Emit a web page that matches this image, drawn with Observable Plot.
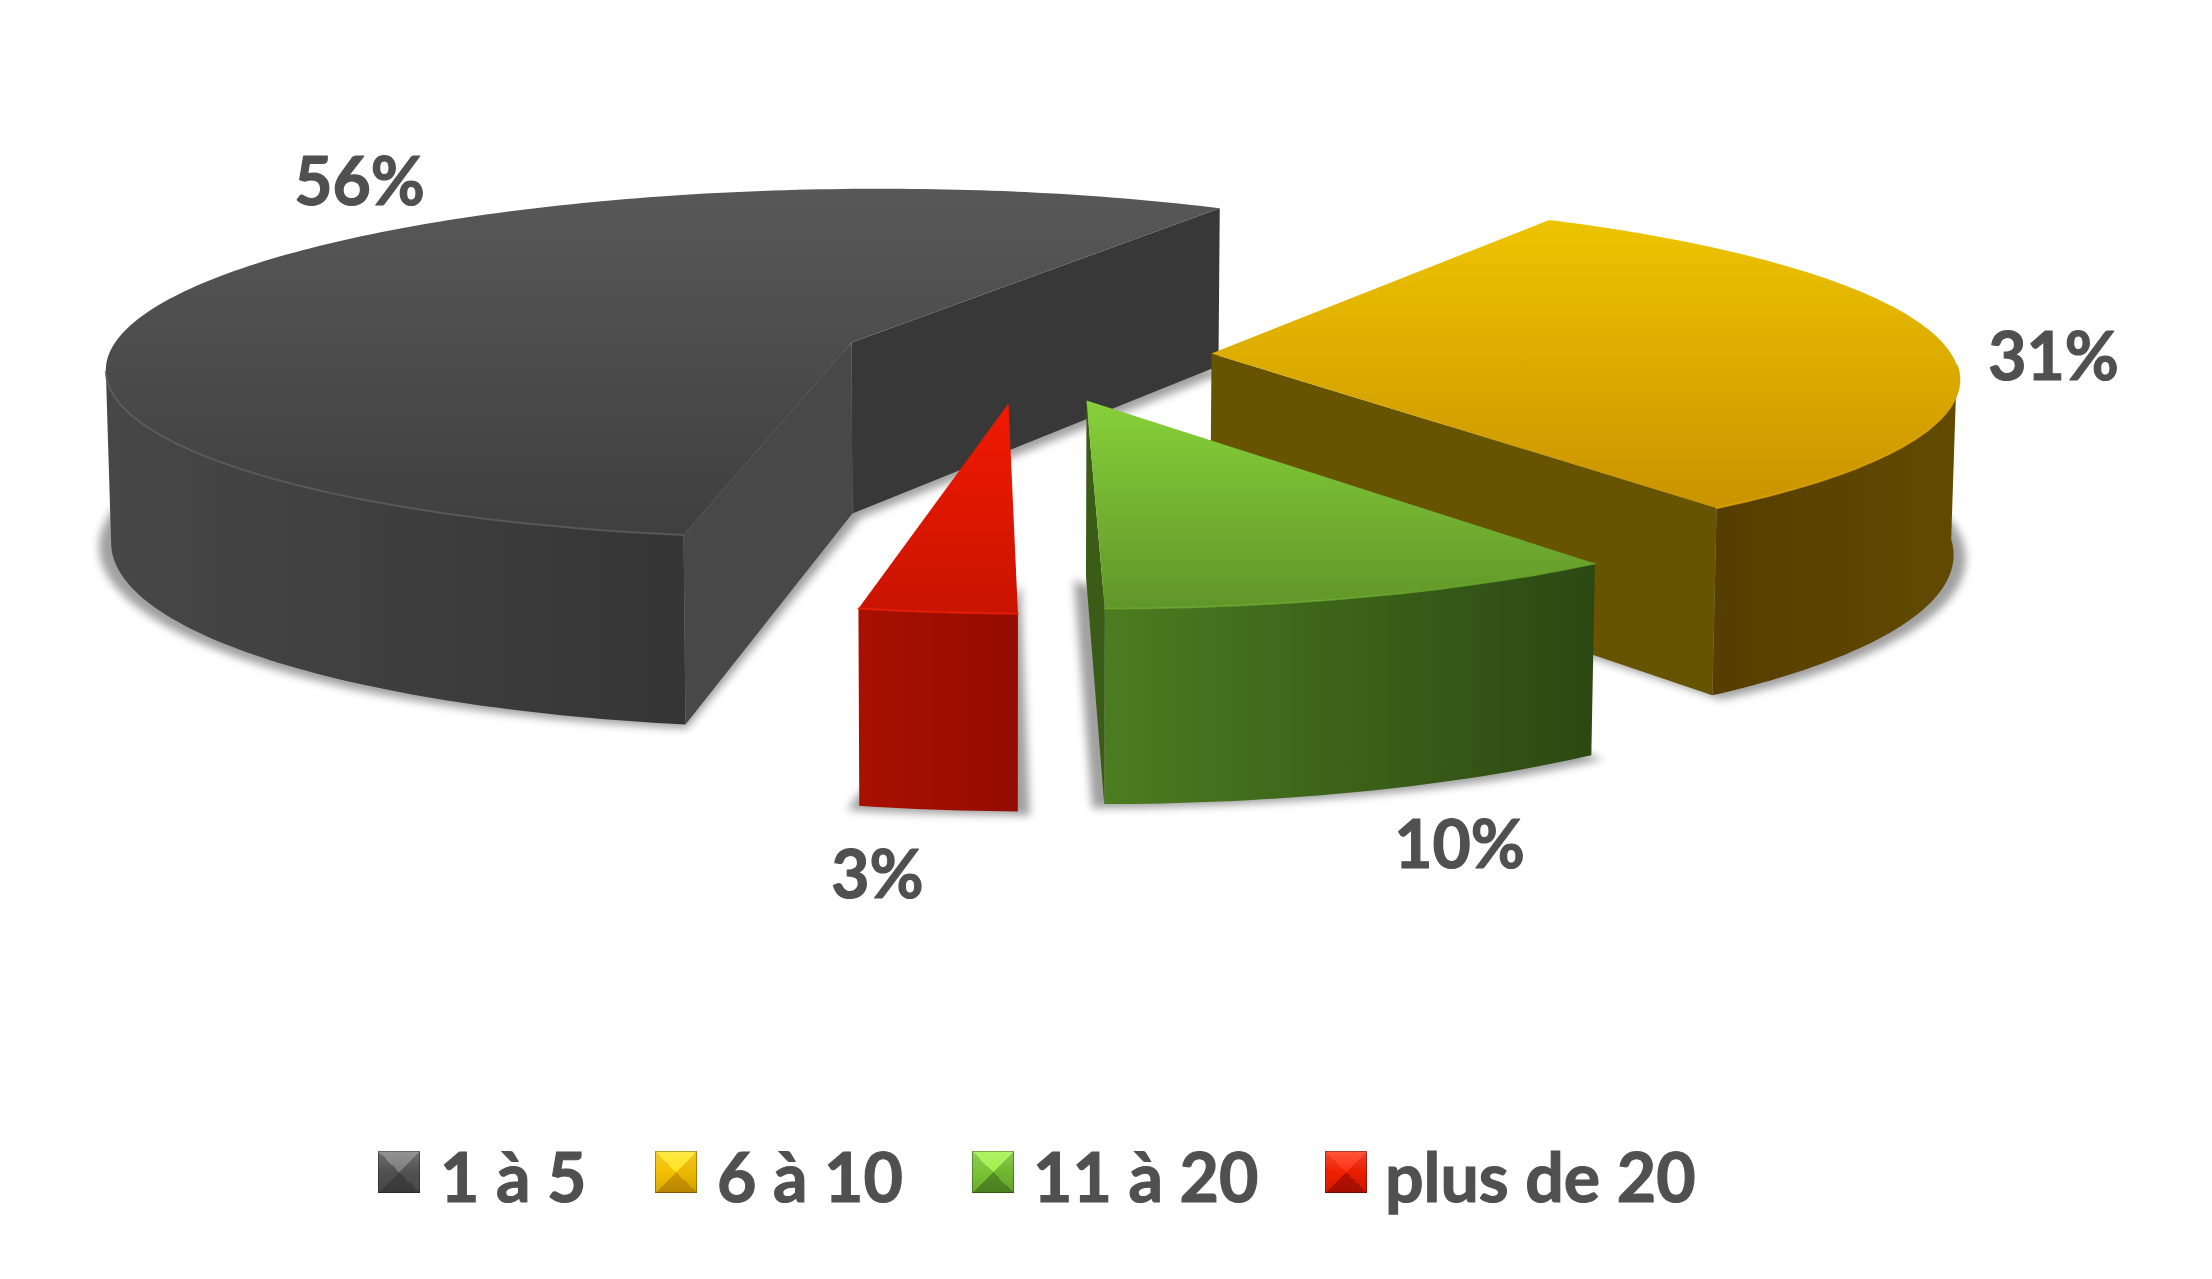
<!DOCTYPE html>
<html lang="fr">
<head>
<meta charset="utf-8">
<script src="https://cdn.jsdelivr.net/npm/d3@7"></script>
<script src="https://cdn.jsdelivr.net/npm/@observablehq/plot@0.6"></script>
<style>
  html, body { margin: 0; padding: 0; background: #fff; overflow: hidden; }
  #chart svg { display: block; }
  #legend { position: relative; height: 159px; width: 2212px; font: 700 68px Lato, sans-serif; color: #505050; -webkit-text-stroke: 1.2px #505050; }
  .item { position: absolute; top: 16px; white-space: nowrap; line-height: 80px; }
  .key { position: absolute; top: 31px; width: 42px; height: 42px; box-shadow: inset 0 0 0 1px rgba(0,0,0,.3); }
</style>
</head>
<body>
<div id="chart"></div>
<div id="legend"></div>
<script>
// ---- data ----
const categories = ["1 à 5", "6 à 10", "11 à 20", "plus de 20"];
const shares = [56, 31, 10, 3];

// ---- drawing settings ----
const W = 2212, H = 1120;
const firstAngle = 192;            // degrees clockwise from the back of the pie
const pTop = 0.12, pDepth = 0.10;  // perspective strengths
const ids = ["dark", "yellow", "green", "red"];
const shape = {
  dark:   {ax: 851,  ay: 342, rx: 741, ry: 172, s: 6,  t: -8, d: 171, outer: [0, 71],    walls: [["last", "#383838"], ["first", "#484848"]], edge: "#5c5c5c"},
  yellow: {ax: 1211, ay: 353, rx: 736, ry: 173, s: 43, t: -5, d: 172, outer: [62, 111.6], walls: [["last", "#665400"]], edge: "#dca400"},
  green:  {ax: 1086, ay: 400, rx: 757, ry: 183, s: 32, t: -6, d: 176, outer: [0, 36],    walls: [["last", "#3b5c16"]], edge: "#66a82c"},
  red:    {ax: 1008, ay: 403, rx: 750, ry: 185, s: 24, t: 0,  d: 178, outer: [0, 10.8],  walls: [], edge: "#ec1c00"}
};
const labelAt = [[359, 183], [2053, 358], [1459, 846], [877, 876]];
const legendAt = [[378, 440], [655, 717], [972, 1033], [1325, 1385]];
const topColors = [["#585858", "#3f3f3f"], ["#edc400", "#ca9300"], ["#87d139", "#619629"], ["#f21900", "#c81400"]];
const sideColors = [["#474747", "#353535"], ["#563d00", "#624b00"], ["#4c7c20", "#2b4812"], ["#a81000", "#940c00"]];
const keyColors = [
  ["#7c7c7c", "#525252", "#404040", "#505050"],
  ["#ffe420", "#ecb800", "#d09800", "#f4c000"],
  ["#a0f048", "#70b830", "#558f24", "#78c434"],
  ["#ff3010", "#e81c00", "#b81000", "#f02000"]
];

// ---- pie geometry, from the shares ----
const arcs = d3.pie().sort(null)
  .startAngle(firstAngle * Math.PI / 180)
  .endAngle((firstAngle + 360) * Math.PI / 180)(shares);

const rad = Math.PI / 180;
function topPoint(g, deg) {
  const X = Math.sin(deg * rad), Y = -Math.cos(deg * rad), w = 1 - pTop * Y;
  return {x: g.ax + (g.rx * X + g.s * Y) / w, y: g.ay + (g.ry * Y + g.t * X) / w, Y};
}
function bottomOf(g, p, Y) {
  return {x: p.x - (p.x - 1000) * 0.006, y: p.y + g.d / (1 - pDepth * Y)};
}
function botPoint(g, deg) { const p = topPoint(g, deg); return bottomOf(g, p, p.Y); }
const apexTop = g => ({x: g.ax, y: g.ay});
const apexBot = g => bottomOf(g, apexTop(g), 0);
function range(a, b) { const n = Math.ceil(Math.abs(b - a)) + 1; return d3.range(n).map(i => a + (b - a) * i / (n - 1)); }

const marks = [];
const defs = [];
function gradient(id, [c0, c1], vertical) {
  defs.push(`<linearGradient id="${id}" x1="0" y1="0" x2="${vertical ? 0 : 1}" y2="${vertical ? 1 : 0}"><stop offset="0" stop-color="${c0}"/><stop offset="1" stop-color="${c1}"/></linearGradient>`);
}
const poly = (pts, options) => Plot.line(pts, {x: "x", y: "y", stroke: "none", ...options});

// cast shadows go under everything
ids.forEach((id, i) => {
  const g = shape[id], a = arcs[i];
  const a0 = a.startAngle / rad, a1 = a.endAngle / rad;
  const pts = [apexBot(g), ...range(a0, a1).map(d => botPoint(g, d))];
  const [x0, x1] = d3.extent(pts, p => p.x);
  const mid = (x0 + x1) / 2, half = (x1 - x0) / 2;
  const grown = pts.map(p => ({x: p.x + 12 * Math.max(-1, Math.min(1, 2 * (p.x - mid) / half)), y: p.y + 4}));
  marks.push(poly(grown, {fill: "#a0a0a0", imageFilter: "blur(4px)"}));
});

ids.forEach((id, i) => {
  const g = shape[id], a = arcs[i];
  const a0 = a.startAngle / rad, a1 = a.endAngle / rad;
  gradient(`top-${id}`, topColors[i], true);
  gradient(`side-${id}`, sideColors[i], false);

  // outer rim (only the part that faces the viewer)
  const seen = range(a0 + g.outer[0], a0 + g.outer[1]);
  marks.push(poly([...seen.map(d => topPoint(g, d)), ...seen.slice().reverse().map(d => botPoint(g, d))], {fill: `url(#side-${id})`}));

  // cut walls
  for (const [edge, color] of g.walls) {
    const e = edge === "first" ? a0 : a1;
    marks.push(poly([apexTop(g), topPoint(g, e), botPoint(g, e), apexBot(g)], {fill: color}));
  }

  // top face
  marks.push(poly([apexTop(g), ...range(a0, a1).map(d => topPoint(g, d))], {fill: `url(#top-${id})`}));

  // thin bevel highlight along the front of the rim
  const rim = range(a0 + g.outer[0], a0 + g.outer[1]);
  marks.push(Plot.line(rim.map(d => topPoint(g, d)), {x: "x", y: "y", stroke: g.edge, strokeWidth: 2, opacity: 0.8}));
});

// percentage labels
marks.push(Plot.text(shares.map((s, i) => ({t: `${s}%`, x: labelAt[i][0], y: labelAt[i][1]})), {
  x: "x", y: "y", text: "t", fontSize: 66, fontWeight: 700, fontFamily: "Lato, sans-serif", fill: "#505050", stroke: "#505050", strokeWidth: 1.2
}));

marks.unshift(() => {
  const node = d3.create("svg:defs").node();
  node.innerHTML = defs.join("");
  return node;
});

const chart = Plot.plot({
  width: W, height: H,
  margin: 0,
  style: {background: "#fff"},
  x: {domain: [0, W], range: [0, W], axis: null},
  y: {domain: [0, H], range: [0, H], axis: null},
  marks
});
document.getElementById("chart").append(chart);

// ---- legend below the SVG ----
const legend = document.getElementById("legend");
categories.forEach((c, i) => {
  const [t, r, b, l] = keyColors[i];
  const key = document.createElement("div");
  key.className = "key";
  key.style.left = legendAt[i][0] + "px";
  key.style.background = `linear-gradient(rgba(255,255,255,.18), rgba(255,255,255,0) 50%, rgba(0,0,0,.12)), conic-gradient(from -45deg, ${t} 0 25%, ${r} 25% 50%, ${b} 50% 75%, ${l} 75% 100%)`;
  const label = document.createElement("div");
  label.className = "item";
  label.style.left = legendAt[i][1] + "px";
  label.textContent = c;
  legend.append(key, label);
});
</script>
</body>
</html>
